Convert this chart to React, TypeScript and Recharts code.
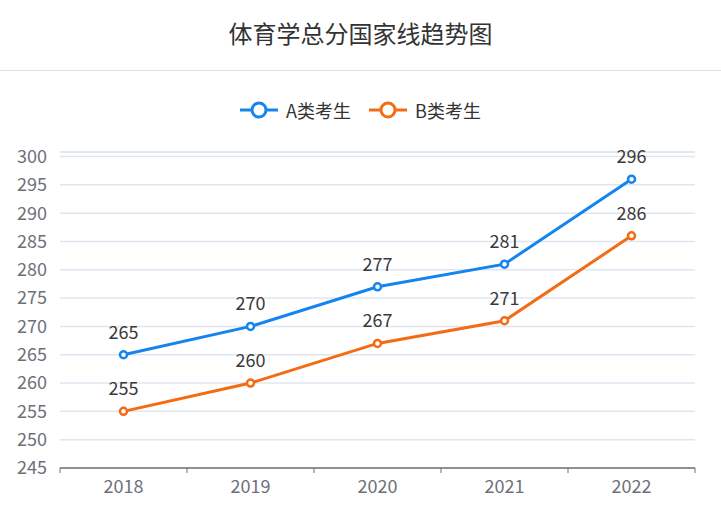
import { LineChart, Line, XAxis, YAxis, CartesianGrid, LabelList, ReferenceLine } from 'recharts';

const years = ['2018', '2019', '2020', '2021', '2022'];
const seriesA = [265, 270, 277, 281, 296];
const seriesB = [255, 260, 267, 271, 286];
const yTicks = [245, 250, 255, 260, 265, 270, 275, 280, 285, 290, 295, 300];

const data = years.map((year, i) => ({ year, a: seriesA[i], b: seriesB[i] }));

const BLUE = '#1684ef';
const ORANGE = '#f46b14';
const FONT = "'Noto Sans CJK SC', 'Noto Sans', sans-serif";
const BAND = 127;

const XTick = ({ x, y, payload, index }: any) => (
  <g>
    <line x1={x - BAND / 2} y1={y - 8} x2={x - BAND / 2} y2={y - 3} stroke="#6e7079" />
    {index === years.length - 1 && (
      <line x1={x + BAND / 2} y1={y - 8} x2={x + BAND / 2} y2={y - 3} stroke="#6e7079" />
    )}
    <text x={x} y={y + 17} textAnchor="middle" fill="#6e7079" fontSize={18} fontFamily={FONT}>
      {payload.value}
    </text>
  </g>
);

const LegendContent = () => {
  const items = [
    { name: 'A类考生', color: BLUE },
    { name: 'B类考生', color: ORANGE },
  ];
  return (
    <div style={{ display: 'flex', justifyContent: 'center', gap: 18, fontSize: 18, color: '#333' }}>
      {items.map((item) => (
        <div key={item.name} style={{ display: 'flex', alignItems: 'center', gap: 8 }}>
          <svg width={38} height={20}>
            <line x1={0} y1={10} x2={38} y2={10} stroke={item.color} strokeWidth={3} />
            <circle cx={19} cy={10} r={7} fill="#fff" stroke={item.color} strokeWidth={3} />
          </svg>
          <span>{item.name}</span>
        </div>
      ))}
    </div>
  );
};

export default function App() {
  return (
    <div style={{ position: 'absolute', left: 0, top: 0, width: 721, height: 518, background: '#fff', fontFamily: FONT }}>
      <div style={{ position: 'absolute', top: 15, left: 0, width: 721, textAlign: 'center', fontSize: 24, color: '#333' }}>
        体育学总分国家线趋势图
      </div>
      <div style={{ position: 'absolute', top: 70, left: 0, width: 721, height: 1, background: '#e0e0e0' }} />
      <div style={{ position: 'absolute', top: 97, left: 0, width: 721 }}>
        <LegendContent />
      </div>
      <LineChart width={721} height={518} data={data} margin={{ top: 152, right: 26, bottom: 20, left: 0 }}>
        <CartesianGrid vertical={false} stroke="#e0e6f1" strokeWidth={1.5} />
        <ReferenceLine y={300.8} stroke="#e0e6f1" strokeWidth={1.5} />
        <XAxis
          dataKey="year"
          axisLine={{ stroke: '#6e7079', strokeWidth: 1.5 }}
          tickLine={false}
          tick={<XTick />}
          height={30}
          interval={0}
          padding={{ left: BAND / 2, right: BAND / 2 }}
        />
        <YAxis
          domain={[245, 300.8]}
          ticks={yTicks}
          axisLine={false}
          tickLine={false}
          tickSize={0}
          tickMargin={13}
          width={60}
          tick={{ fill: '#6e7079', fontSize: 18, fontFamily: FONT }}
          allowDataOverflow
        />
        <Line
          type="linear"
          dataKey="a"
          stroke={BLUE}
          strokeWidth={3}
          dot={{ r: 3.5, fill: '#fff', stroke: BLUE, strokeWidth: 2.5 }}
          isAnimationActive={false}
        >
          <LabelList dataKey="a" position="top" offset={16} fill="#3a3a3a" fontSize={18} fontFamily={FONT} />
        </Line>
        <Line
          type="linear"
          dataKey="b"
          stroke={ORANGE}
          strokeWidth={3}
          dot={{ r: 3.5, fill: '#fff', stroke: ORANGE, strokeWidth: 2.5 }}
          isAnimationActive={false}
        >
          <LabelList dataKey="b" position="top" offset={16} fill="#3a3a3a" fontSize={18} fontFamily={FONT} />
        </Line>
      </LineChart>
    </div>
  );
}
